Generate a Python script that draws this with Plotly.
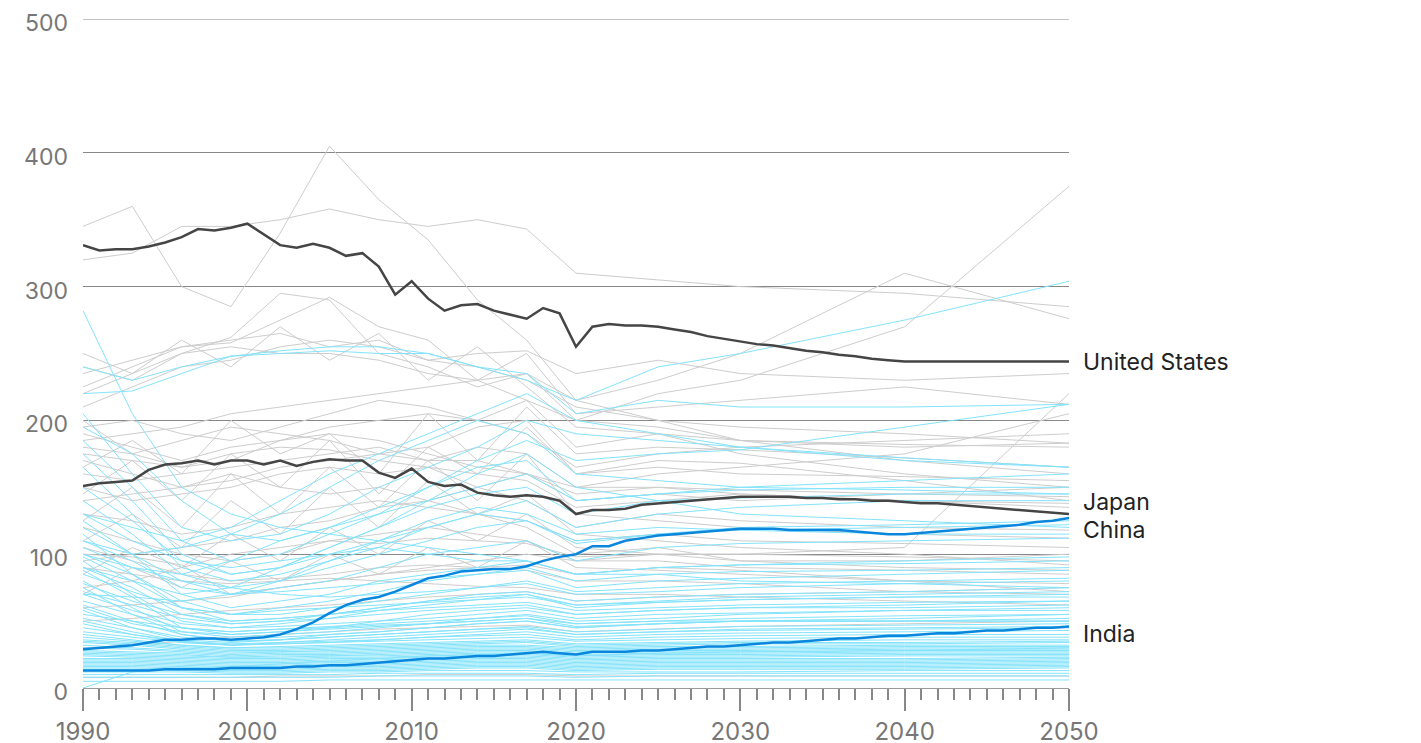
import plotly.graph_objects as go

# anos completos para as séries destacadas
anos = list(range(1990, 2051))

estados_unidos = [331, 327, 328, 328, 330, 333, 337, 343, 342, 344,
                  347, 339, 331, 329, 332, 329, 323, 325, 315, 294,
                  304, 291, 282, 286, 287, 282, 279, 276, 284, 280,
                  255, 270, 272, 271, 271, 270, 268, 266, 263, 261,
                  259, 257, 256, 254, 252, 251, 249, 248, 246, 245,
                  244, 244, 244, 244, 244, 244, 244, 244, 244, 244, 244]

japao = [151, 153, 154, 155, 163, 167, 168, 170, 167, 170,
         170, 167, 170, 166, 169, 171, 170, 170, 161, 157,
         164, 154, 151, 152, 146, 144, 143, 144, 143, 140,
         130, 133, 133, 134, 137, 138, 139, 140, 141, 142,
         143, 143, 143, 143, 142, 142, 141, 141, 140, 140,
         139, 138, 138, 137, 136, 135, 134, 133, 132, 131, 130]

china = [29, 30, 31, 32, 34, 36, 36, 37, 37, 36,
         37, 38, 40, 44, 49, 56, 62, 66, 68, 72,
         77, 82, 84, 87, 88, 89, 89, 91, 95, 98,
         100, 106, 106, 110, 112, 114, 115, 116, 117, 118,
         119, 119, 119, 118, 118, 118, 118, 117, 116, 115,
         115, 116, 117, 118, 119, 120, 121, 122, 124, 125, 127]

india = [13, 13, 13, 13, 13, 14, 14, 14, 14, 15,
         15, 15, 15, 16, 16, 17, 17, 18, 19, 20,
         21, 22, 22, 23, 24, 24, 25, 26, 27, 26,
         25, 27, 27, 27, 28, 28, 29, 30, 31, 31,
         32, 33, 34, 34, 35, 36, 37, 37, 38, 39,
         39, 40, 41, 41, 42, 43, 43, 44, 45, 45, 46]

# anos das séries de fundo
anos_fundo = [1990, 1993, 1996, 1999, 2002, 2005, 2008, 2011, 2014, 2017, 2020, 2025, 2030, 2040, 2050]

cinzas = [
    [345, 360, 300, 285, 340, 405, 365, 335, 290, 260, 215, 200, 185, 180, 183],
    [320, 325, 345, 345, 350, 358, 350, 345, 350, 343, 310, 305, 300, 295, 285],
    [235, 245, 255, 260, 265, 255, 260, 245, 250, 252, 235, 245, 235, 230, 235],
    [225, 240, 255, 258, 275, 292, 270, 260, 230, 215, 200, 220, 230, 270, 375],
    [240, 230, 250, 262, 295, 290, 250, 240, 225, 235, 215, 230, 250, 310, 276],
    [220, 235, 250, 255, 250, 250, 245, 235, 230, 250, 205, 210, 215, 225, 212],
    [210, 225, 240, 245, 255, 260, 255, 245, 240, 230, 210, 200, 195, 190, 183],
    [180, 175, 185, 195, 190, 185, 175, 170, 180, 175, 150, 160, 165, 175, 205],
    [190, 180, 170, 180, 185, 190, 185, 175, 165, 160, 140, 145, 140, 145, 150],
    [175, 170, 165, 175, 180, 178, 170, 165, 160, 155, 135, 140, 145, 140, 138],
    [160, 155, 160, 165, 170, 175, 180, 170, 170, 160, 150, 150, 148, 145, 143],
    [150, 140, 145, 150, 160, 165, 160, 165, 150, 140, 120, 130, 125, 120, 118],
    [140, 145, 150, 160, 150, 145, 150, 140, 130, 125, 110, 115, 110, 108, 105],
    [130, 125, 115, 120, 130, 135, 140, 135, 130, 120, 100, 105, 95, 95, 100],
    [120, 110, 100, 95, 100, 110, 115, 120, 115, 110, 95, 95, 90, 88, 85],
    [105, 95, 85, 80, 82, 85, 90, 92, 90, 88, 80, 80, 78, 72, 70],
    [100, 98, 92, 70, 75, 80, 85, 88, 90, 92, 85, 90, 88, 80, 72],
    [90, 85, 80, 78, 80, 82, 80, 78, 76, 75, 70, 70, 68, 65, 62],
    [60, 62, 65, 68, 75, 80, 85, 90, 95, 100, 95, 100, 100, 98, 95],
    [200, 175, 165, 170, 185, 195, 200, 205, 200, 215, 180, 190, 175, 160, 150],
    [185, 190, 195, 205, 210, 215, 220, 225, 230, 235, 200, 195, 185, 170, 160],
    [170, 160, 150, 155, 165, 170, 175, 180, 195, 200, 160, 170, 168, 155, 140],
    [95, 100, 105, 110, 120, 125, 135, 140, 150, 160, 145, 150, 145, 140, 135],
    [75, 80, 90, 100, 105, 110, 108, 112, 110, 108, 98, 100, 100, 105, 220],
    [50, 52, 55, 58, 60, 62, 65, 68, 70, 72, 65, 68, 70, 72, 75],
    [30, 32, 35, 38, 40, 42, 44, 45, 46, 47, 42, 44, 46, 48, 50],
    [8, 8, 8, 8, 9, 9, 9, 10, 10, 10, 9, 9, 9, 9, 9],
    [195, 200, 190, 185, 195, 205, 215, 210, 200, 190, 165, 175, 180, 185, 190],
    [165, 185, 160, 200, 175, 190, 160, 205, 170, 210, 175, 180, 178, 172, 165],
    [145, 170, 140, 175, 150, 185, 145, 180, 160, 195, 160, 165, 160, 158, 155],
    [125, 150, 120, 160, 130, 165, 135, 170, 140, 175, 130, 125, 120, 115, 112],
    [110, 130, 105, 140, 115, 150, 120, 155, 130, 145, 115, 110, 105, 100, 92],
    [85, 105, 90, 115, 95, 120, 100, 125, 110, 130, 105, 100, 95, 90, 88],
    [250, 235, 260, 240, 270, 245, 265, 230, 255, 225, 195, 190, 185, 182, 180],
    [70, 90, 75, 95, 80, 100, 85, 105, 90, 110, 90, 88, 85, 80, 78],
]

cianos = [
    [282, 205, 150, 130, 120, 115, 110, 105, 100, 95, 85, 85, 80, 78, 75],
    [240, 230, 240, 248, 252, 255, 255, 250, 240, 230, 215, 240, 250, 275, 304],
    [220, 222, 235, 248, 250, 252, 250, 250, 240, 235, 205, 215, 210, 210, 212],
    [205, 160, 120, 110, 115, 130, 150, 165, 180, 200, 190, 185, 180, 172, 165],
    [195, 175, 140, 115, 110, 120, 135, 150, 170, 185, 170, 175, 178, 195, 212],
    [185, 150, 110, 95, 100, 115, 130, 150, 165, 170, 140, 145, 148, 150, 150],
    [175, 140, 100, 85, 90, 105, 120, 135, 145, 150, 130, 140, 142, 145, 145],
    [165, 130, 90, 80, 85, 95, 105, 120, 130, 140, 120, 130, 135, 140, 140],
    [150, 125, 95, 85, 90, 100, 110, 125, 135, 130, 115, 120, 118, 115, 115],
    [140, 115, 85, 75, 80, 90, 100, 110, 120, 125, 108, 115, 120, 122, 125],
    [130, 110, 95, 90, 95, 100, 105, 100, 95, 95, 85, 90, 92, 95, 98],
    [125, 100, 80, 70, 75, 80, 90, 100, 105, 110, 95, 105, 108, 110, 112],
    [120, 100, 70, 60, 65, 70, 80, 85, 90, 95, 85, 90, 92, 93, 95],
    [115, 85, 60, 55, 60, 65, 72, 80, 85, 90, 80, 85, 87, 88, 90],
    [110, 95, 75, 70, 72, 75, 78, 82, 85, 88, 75, 80, 82, 85, 88],
    [105, 90, 80, 75, 70, 68, 70, 72, 75, 78, 70, 72, 75, 78, 80],
    [100, 85, 65, 55, 55, 60, 65, 70, 75, 80, 72, 75, 78, 80, 82],
    [98, 80, 60, 50, 52, 55, 60, 65, 70, 72, 65, 68, 70, 72, 75],
    [95, 70, 50, 45, 48, 52, 58, 62, 66, 70, 62, 65, 68, 70, 72],
    [90, 75, 55, 48, 50, 55, 60, 65, 68, 70, 60, 64, 66, 68, 70],
    [88, 68, 45, 40, 42, 45, 50, 55, 58, 60, 55, 58, 60, 62, 65],
    [85, 72, 60, 55, 58, 60, 62, 64, 66, 68, 62, 64, 66, 68, 68],
    [80, 60, 42, 38, 40, 42, 45, 48, 52, 55, 50, 52, 55, 58, 60],
    [78, 65, 55, 50, 52, 55, 58, 60, 62, 64, 58, 60, 62, 64, 65],
    [75, 55, 40, 35, 36, 40, 42, 45, 48, 50, 45, 48, 50, 52, 55],
    [72, 62, 52, 48, 50, 52, 55, 58, 60, 62, 55, 58, 60, 60, 62],
    [70, 58, 48, 45, 46, 48, 50, 52, 55, 58, 52, 55, 56, 58, 58],
    [65, 55, 45, 42, 44, 46, 48, 50, 52, 54, 48, 50, 52, 54, 55],
    [62, 50, 40, 36, 38, 40, 42, 45, 48, 50, 45, 48, 50, 50, 52],
    [60, 48, 42, 40, 42, 44, 46, 48, 50, 52, 46, 48, 50, 50, 50],
    [58, 45, 36, 34, 36, 38, 40, 42, 44, 46, 42, 44, 46, 47, 48],
    [55, 50, 45, 42, 44, 45, 47, 48, 50, 52, 48, 50, 50, 50, 50],
    [52, 45, 38, 35, 36, 38, 40, 42, 44, 45, 40, 42, 44, 45, 46],
    [50, 42, 35, 32, 34, 36, 38, 40, 42, 44, 40, 42, 43, 44, 45],
    [48, 40, 34, 32, 33, 34, 36, 38, 40, 42, 38, 40, 41, 42, 43],
    [45, 40, 35, 33, 34, 35, 36, 38, 39, 40, 36, 38, 39, 40, 40],
    [42, 38, 34, 32, 33, 34, 35, 36, 37, 38, 35, 36, 37, 38, 38],
    [40, 36, 32, 30, 31, 32, 33, 34, 35, 36, 33, 34, 35, 36, 36],
    [38, 35, 32, 30, 30, 31, 32, 33, 34, 35, 32, 33, 34, 34, 35],
    [36, 34, 31, 29, 29, 30, 31, 32, 33, 34, 31, 32, 33, 33, 34],
    [35, 33, 30, 28, 28, 29, 30, 31, 32, 32, 30, 31, 31, 32, 32],
    [34, 32, 29, 27, 27, 28, 29, 30, 31, 31, 29, 30, 30, 31, 31],
    [32, 30, 28, 26, 27, 27, 28, 29, 30, 30, 28, 29, 29, 30, 30],
    [30, 29, 27, 25, 26, 26, 27, 28, 29, 29, 27, 28, 28, 29, 29],
    [28, 27, 26, 24, 25, 25, 26, 27, 28, 28, 26, 27, 27, 28, 28],
    [27, 26, 25, 23, 24, 24, 25, 26, 27, 27, 25, 26, 26, 27, 27],
    [26, 25, 24, 23, 23, 24, 24, 25, 26, 26, 24, 25, 25, 26, 26],
    [25, 24, 23, 22, 22, 23, 23, 24, 25, 25, 23, 24, 24, 25, 25],
    [24, 23, 22, 21, 21, 22, 22, 23, 24, 24, 22, 23, 23, 24, 24],
    [22, 22, 21, 20, 20, 21, 21, 22, 23, 23, 21, 22, 22, 22, 23],
    [21, 21, 20, 19, 19, 20, 20, 21, 22, 22, 20, 21, 21, 21, 22],
    [20, 20, 19, 18, 18, 19, 19, 20, 21, 21, 19, 20, 20, 20, 21],
    [19, 19, 18, 17, 17, 18, 18, 19, 20, 20, 18, 19, 19, 19, 20],
    [18, 18, 17, 16, 16, 17, 17, 18, 19, 19, 17, 18, 18, 18, 19],
    [17, 17, 16, 15, 15, 16, 16, 17, 18, 18, 16, 17, 17, 17, 18],
    [16, 16, 15, 14, 14, 15, 15, 16, 17, 17, 15, 16, 16, 16, 17],
    [15, 15, 14, 13, 13, 14, 14, 15, 16, 16, 14, 15, 15, 15, 16],
    [14, 14, 13, 12, 12, 13, 13, 14, 15, 15, 13, 14, 14, 14, 15],
    [12, 12, 12, 11, 11, 12, 12, 13, 13, 13, 12, 12, 12, 13, 13],
    [10, 10, 10, 10, 10, 10, 11, 11, 11, 11, 10, 11, 11, 11, 11],
    [8, 8, 8, 8, 8, 8, 9, 9, 9, 9, 8, 9, 9, 9, 9],
    [5, 5, 5, 5, 5, 6, 6, 6, 6, 6, 6, 6, 6, 6, 6],
    [0, 12, 15, 16, 18, 20, 22, 24, 25, 26, 24, 26, 27, 28, 30],
    [100, 90, 85, 95, 110, 120, 130, 140, 150, 160, 140, 145, 150, 155, 160],
    [110, 100, 105, 115, 130, 150, 170, 185, 200, 190, 160, 155, 150, 148, 145],
    [90, 80, 70, 75, 90, 105, 120, 140, 160, 175, 150, 140, 130, 125, 120],
    [130, 120, 110, 120, 140, 160, 175, 190, 205, 220, 200, 190, 180, 170, 165],
    [70, 68, 65, 70, 80, 95, 110, 120, 130, 125, 110, 115, 118, 120, 122],
]

etiquetas = ['United States', 'Japan', 'China', 'India']
valores_etiqueta = [244, 139, 118, 40]

fig = go.Figure()

for serie in cinzas:
    fig.add_trace(go.Scatter(x=anos_fundo, y=serie, mode='lines',
                             line=dict(color='#cdcdcd', width=1), hoverinfo='skip'))

for serie in cianos:
    fig.add_trace(go.Scatter(x=anos_fundo, y=serie, mode='lines',
                             line=dict(color='#84e3fb', width=1), hoverinfo='skip'))

# séries destacadas
fig.add_trace(go.Scatter(x=anos, y=estados_unidos, mode='lines', line=dict(color='#454545', width=2.5)))
fig.add_trace(go.Scatter(x=anos, y=japao, mode='lines', line=dict(color='#454545', width=2.5)))
fig.add_trace(go.Scatter(x=anos, y=china, mode='lines', line=dict(color='#0a86dc', width=2.5)))
fig.add_trace(go.Scatter(x=anos, y=india, mode='lines', line=dict(color='#0a86dc', width=2.5)))

for texto, valor in zip(etiquetas, valores_etiqueta):
    fig.add_annotation(x=2050, y=valor, text=texto, showarrow=False,
                       xanchor='left', xshift=12,
                       font=dict(size=23, color='#222222'))

# linha de grade do topo (o plotly não desenha a grade na borda do eixo)
fig.add_shape(type='line', xref='paper', x0=0, x1=1, yref='y', y0=500, y1=500,
              line=dict(color='#888888', width=1), layer='below')

# margens descontam os 8px de margem do <body>
fig.update_layout(
    width=1421, height=743,
    margin=dict(l=75, r=360, t=11, b=63),
    plot_bgcolor='white', paper_bgcolor='white',
    showlegend=False,
    font=dict(family='Inter, Roboto, sans-serif', color='#777777'),
    xaxis=dict(
        range=[1990, 2050],
        tickvals=[1990, 2000, 2010, 2020, 2030, 2040, 2050],
        ticks='outside', ticklen=22, tickcolor='#888888', tickwidth=1.5,
        minor=dict(dtick=1, ticks='outside', ticklen=11, tickcolor='#888888', tickwidth=1.5),
        showline=True, linecolor='#999999', linewidth=1,
        showgrid=False, zeroline=False, automargin=False,
        ticklabeloverflow='allow',
        tickfont=dict(size=24, color='#777777'),
    ),
    yaxis=dict(
        range=[0, 500],
        tickvals=[0, 100, 200, 300, 400, 500],
        showgrid=True, gridcolor='#888888', gridwidth=1,
        zeroline=False, showline=False, ticks='', automargin=False,
        ticklabelstandoff=14, ticklabelshift=4, ticklabeloverflow='allow',
        tickfont=dict(size=23, color='#777777'),
    ),
)

fig.write_html("out.html")
